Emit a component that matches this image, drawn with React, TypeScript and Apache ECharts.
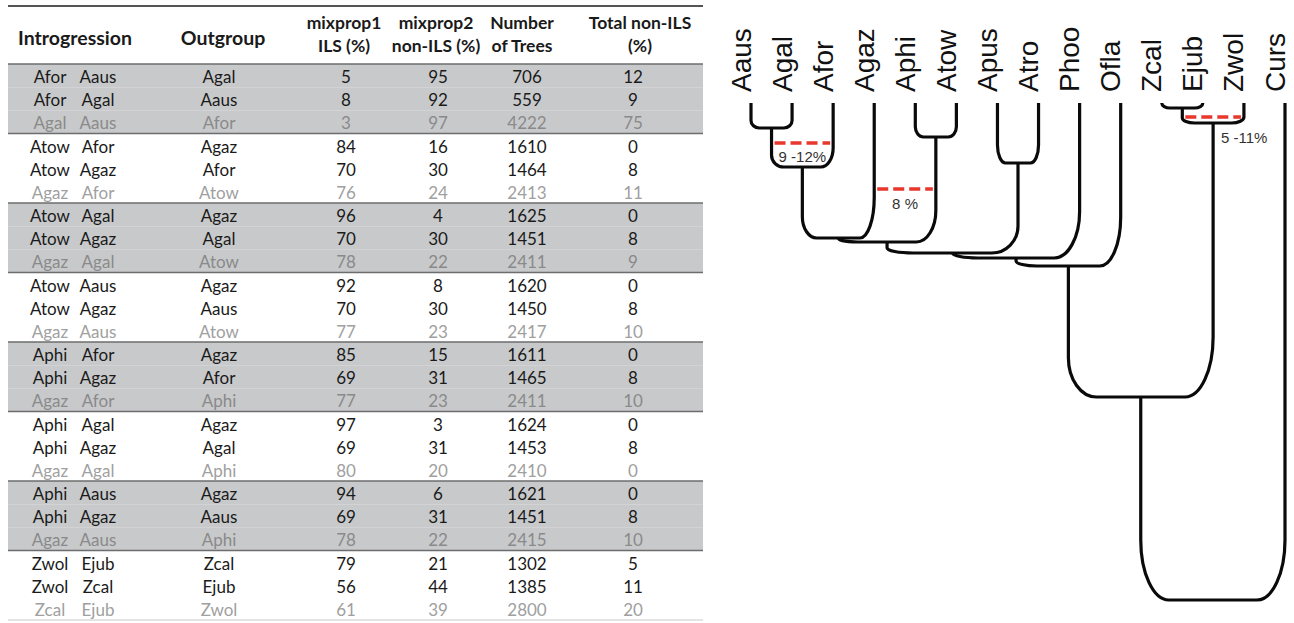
import React, { useEffect, useRef } from "react";
import * as echarts from "echarts";

// ---------- Table data ----------
const DONOR = ["Afor","Afor","Agal","Atow","Atow","Agaz","Atow","Atow","Agaz","Atow","Atow","Agaz","Aphi","Aphi","Agaz","Aphi","Aphi","Agaz","Aphi","Aphi","Agaz","Zwol","Zwol","Zcal"];
const RECIPIENT = ["Aaus","Agal","Aaus","Afor","Agaz","Afor","Agal","Agaz","Agal","Aaus","Agaz","Aaus","Afor","Agaz","Afor","Agal","Agaz","Agal","Aaus","Agaz","Aaus","Ejub","Zcal","Ejub"];
const OUTGROUP = ["Agal","Aaus","Afor","Agaz","Afor","Atow","Agaz","Agal","Atow","Agaz","Aaus","Atow","Agaz","Afor","Aphi","Agaz","Agal","Aphi","Agaz","Aaus","Aphi","Zcal","Ejub","Zwol"];
const MIXPROP1 = [5,8,3,84,70,76,96,70,78,92,70,77,85,69,77,97,69,80,94,69,78,79,56,61];
const MIXPROP2 = [95,92,97,16,30,24,4,30,22,8,30,23,15,31,23,3,31,20,6,31,22,21,44,39];
const TREES = [706,559,4222,1610,1464,2413,1625,1451,2411,1620,1450,2417,1611,1465,2411,1624,1453,2410,1621,1451,2415,1302,1385,2800];
const NON_ILS = [12,9,75,0,8,11,0,8,9,0,8,10,0,8,10,0,8,0,0,8,10,5,11,20];
const HEADERS = [["Introgression"],["Outgroup"],["mixprop1","ILS (%)"],["mixprop2","non-ILS (%)"],["Number","of Trees"],["Total non-ILS","(%)"]];

// ---------- Tree data ----------
const TAXA = ["Aaus","Agal","Afor","Agaz","Aphi","Atow","Apus","Atro","Phoo","Ofla","Zcal","Ejub","Zwol","Curs"];
const NODE_NAMES = ["N1","N2","N3","N4","N5","N6","N7","N8","N9","N10","N11","N12","N13"];
const NODE_LEFT = ["Aaus","N1","N2","Aphi","N3","Apus","N5","N7","N8","Zcal","N10","N9","N12"];
const NODE_RIGHT = ["Agal","Afor","Agaz","Atow","N4","Atro","N6","Phoo","Ofla","Ejub","Zwol","N11","Curs"];
const NODE_DEPTH = [25,64,135,34,139,60,150,155,163,5,20,294,497];

const FLOW_FROM = ["N1","Agaz","N10"];
const FLOW_TO = ["Afor","N4","Zwol"];
const FLOW_DEPTH = [40,86,14];
const FLOW_LABEL = ["9 -12%","8 %","5 -11%"];

// ---------- Layout ----------
const TABLE_LEFT = 8;
const TABLE_WIDTH = 695;
const COL_X = [42, 90, 211, 338, 430, 519, 625]; // relative to table left
const HEADER_X = [75, 223, 344, 436, 522, 640];
const FLOW_LABEL_OFFSET = [[0, 13], [0, 14], [31, 20]];
const TABLE_FONT = "Lato";
const TREE_FONT = "Liberation Sans";

function buildTree() {
  const xPos: Record<string, number> = {};
  const depth: Record<string, number> = {};
  TAXA.forEach((t, i) => { xPos[t] = i; depth[t] = 0; });
  NODE_NAMES.forEach((n, i) => {
    xPos[n] = (xPos[NODE_LEFT[i]] + xPos[NODE_RIGHT[i]]) / 2;
    depth[n] = NODE_DEPTH[i];
  });
  return { xPos, depth };
}

export default function App() {
  const ref = useRef<HTMLDivElement>(null);

  useEffect(() => {
    if (!ref.current) return;
    const chart = echarts.init(ref.current, null, { renderer: "svg" });
    const { xPos, depth } = buildTree();

    const nodeData = NODE_NAMES.map((n, i) => [
      xPos[NODE_LEFT[i]], depth[NODE_LEFT[i]], xPos[NODE_RIGHT[i]], depth[NODE_RIGHT[i]], NODE_DEPTH[i],
    ]);
    const flowData = FLOW_FROM.map((f, i) => [xPos[f], xPos[FLOW_TO[i]], FLOW_DEPTH[i]]);

    const graphics: any[] = [
      { type: "line", shape: { x1: 8, y1: 6, x2: 703, y2: 6 }, style: { stroke: "#555", lineWidth: 2 } },
    ];
    HEADERS.forEach((lines, i) => {
      const single = lines.length === 1;
      const ys = single ? [37] : [22, 45];
      lines.forEach((t, k) => {
        graphics.push({
          type: "text",
          x: HEADER_X[i],
          y: ys[k],
          style: {
            text: t,
            fill: "#1a1a1a",
            fontFamily: TABLE_FONT,
            fontWeight: "bold",
            fontSize: single ? 19.5 : 17.5,
            align: "center",
            verticalAlign: "middle",
            textAlign: "center",
            textVerticalAlign: "middle",
          },
        });
      });
    });

    const txt = (x: number, y: number, text: string, fill: string) => ({
      type: "text",
      x,
      y,
      z2: 10,
      style: {
        text,
        fill,
        fontFamily: TABLE_FONT,
        fontSize: 17,
        align: "center",
        verticalAlign: "middle",
        textAlign: "center",
        textVerticalAlign: "middle",
      },
    });

    const option: any = {
      animation: false,
      backgroundColor: "#fff",
      graphic: graphics,
      grid: [
        { left: TABLE_LEFT, top: 64, width: TABLE_WIDTH, height: 556 },
        { left: 751, top: 103, width: 534, height: 497 },
      ],
      xAxis: [
        { gridIndex: 0, type: "value", min: 0, max: TABLE_WIDTH, show: false },
        { gridIndex: 1, type: "value", min: 0, max: TAXA.length - 1, show: false },
      ],
      yAxis: [
        { gridIndex: 0, type: "category", data: DONOR.map((_, i) => String(i)), inverse: true, show: false },
        { gridIndex: 1, type: "value", min: 0, max: 497, inverse: true, show: false },
      ],
      series: [
        {
          type: "custom",
          xAxisIndex: 0,
          yAxisIndex: 0,
          clip: false,
          data: DONOR.map((_, i) => [0, i]),
          renderItem: (params: any, api: any) => {
            const i = params.dataIndex;
            const c = api.coord([0, i]);
            const h = api.size([0, 1])[1];
            const left = c[0];
            const right = api.coord([TABLE_WIDTH, i])[0];
            const top = c[1] - h / 2;
            const group = Math.floor(i / 3);
            const shaded = group % 2 === 0 && group < 7;
            const faint = i % 3 === 2;
            const fill = faint ? (shaded ? "#8a8a8a" : "#a0a0a0") : "#1a1a1a";
            const children: any[] = [];
            if (shaded) {
              children.push({ type: "rect", shape: { x: left, y: top, width: right - left, height: h }, style: { fill: "#c8c9cb" }, z2: 0 });
            }
            if (i % 3 === 0) {
              children.push({ type: "line", shape: { x1: left, y1: top, x2: right, y2: top }, style: { stroke: "#6d6d6d", lineWidth: 1.6 }, z2: 5 });
            }
            if (i === DONOR.length - 1) {
              children.push({ type: "line", shape: { x1: left, y1: top + h, x2: right, y2: top + h }, style: { stroke: "#c9c9c9", lineWidth: 1 }, z2: 5 });
            }
            const cells = [DONOR[i], RECIPIENT[i], OUTGROUP[i], String(MIXPROP1[i]), String(MIXPROP2[i]), String(TREES[i]), String(NON_ILS[i])];
            cells.forEach((t, k) => {
              const x = api.coord([COL_X[k], i])[0];
              children.push(txt(x, c[1] + 1, t, fill));
            });
            return { type: "group", children };
          },
        },
        {
          // branches
          type: "custom",
          xAxisIndex: 1,
          yAxisIndex: 1,
          clip: false,
          data: nodeData,
          renderItem: (params: any, api: any) => {
            const pL = api.coord([api.value(0), api.value(1)]);
            const pR = api.coord([api.value(2), api.value(3)]);
            const y = api.coord([api.value(0), api.value(4)])[1];
            const w = pR[0] - pL[0];
            const rx = Math.min(w * 0.2, 28);
            const lenL = y - pL[1];
            const lenR = y - pR[1];
            const ryL = Math.min(Math.max(lenL * 0.3, 5), 60, lenL);
            const ryR = Math.min(Math.max(lenR * 0.3, 5), 60, lenR);
            const k = 0.448;
            const d = [
              `M${pL[0]} ${pL[1]}`,
              `L${pL[0]} ${y - ryL}`,
              `C${pL[0]} ${y - ryL * k} ${pL[0] + rx * k} ${y} ${pL[0] + rx} ${y}`,
              `L${pR[0] - rx} ${y}`,
              `C${pR[0] - rx * k} ${y} ${pR[0]} ${y - ryR * k} ${pR[0]} ${y - ryR}`,
              `L${pR[0]} ${pR[1]}`,
            ].join(" ");
            return {
              type: "path",
              shape: { pathData: d },
              style: { fill: "none", stroke: "#0a0a0a", lineWidth: 3.2, lineJoin: "round", lineCap: "butt" },
            };
          },
        },
        {
          // taxon labels
          type: "custom",
          xAxisIndex: 1,
          yAxisIndex: 1,
          clip: false,
          data: TAXA.map((_, i) => [i, 0]),
          renderItem: (params: any, api: any) => {
            const p = api.coord([api.value(0), 0]);
            return {
              type: "text",
              x: p[0] - 10,
              y: p[1] - 11,
              rotation: Math.PI / 2,
              style: {
                text: TAXA[params.dataIndex],
                fill: "#111",
                fontFamily: TREE_FONT,
                fontSize: 28,
                align: "left",
                verticalAlign: "middle",
                textAlign: "left",
                textVerticalAlign: "middle",
              },
            };
          },
        },
        {
          // introgression events
          type: "custom",
          xAxisIndex: 1,
          yAxisIndex: 1,
          clip: false,
          z: 5,
          data: flowData,
          renderItem: (params: any, api: any) => {
            const i = params.dataIndex;
            const a = api.coord([api.value(0), api.value(2)]);
            const b = api.coord([api.value(1), api.value(2)]);
            const mid = (a[0] + b[0]) / 2;
            const off = FLOW_LABEL_OFFSET[i];
            return {
              type: "group",
              children: [
                {
                  type: "line",
                  shape: { x1: a[0] + 3, y1: a[1], x2: b[0] - 3, y2: b[1] },
                  style: { stroke: "#e8372c", lineWidth: 3.5, lineDash: [11, 5] },
                },
                {
                  type: "text",
                  x: mid + off[0],
                  y: a[1] + off[1],
                  style: {
                    text: FLOW_LABEL[i],
                    fill: "#333",
                    fontFamily: TREE_FONT,
                    fontSize: 15,
                    align: "center",
                    verticalAlign: "middle",
                    textAlign: "center",
                    textVerticalAlign: "middle",
                  },
                },
              ],
            };
          },
        },
      ],
    };

    chart.setOption(option);
    return () => chart.dispose();
  }, []);

  return (
    <div
      ref={ref}
      style={{ position: "fixed", left: 0, top: 0, width: 1294, height: 623, background: "#fff" }}
    />
  );
}
